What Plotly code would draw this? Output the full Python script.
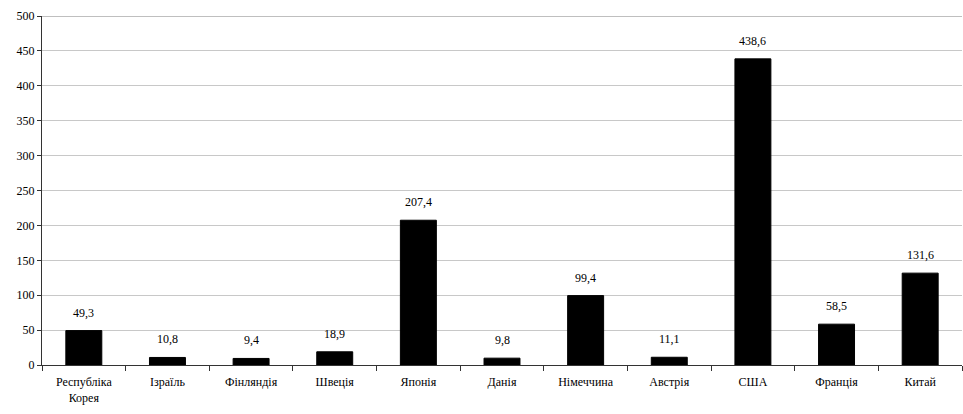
import plotly.graph_objects as go

countries = ["Республіка<br>Корея", "Ізраїль", "Фінляндія", "Швеція", "Японія", "Данія",
             "Німеччина", "Австрія", "США", "Франція", "Китай"]
values = [49.3, 10.8, 9.4, 18.9, 207.4, 9.8, 99.4, 11.1, 438.6, 58.5, 131.6]
y_ticks = [0, 50, 100, 150, 200, 250, 300, 350, 400, 450, 500]

labels = [f"{v:.1f}".replace(".", ",") for v in values]

font = dict(family="'Liberation Serif', 'DejaVu Serif', serif", size=12, color="#000")

fig = go.Figure(go.Bar(
    x=countries, y=values,
    marker=dict(color="#000", line=dict(color="#000", width=1)),
))

# value labels above each bar
for c, v, t in zip(countries, values, labels):
    fig.add_annotation(x=c, y=v, text=t, showarrow=False, yanchor="bottom",
                       yshift=9, font=font)

fig.update_layout(
    width=963, height=414,
    margin=dict(l=42, r=1, t=16, b=49),
    plot_bgcolor="white", paper_bgcolor="white",
    bargap=0.57, showlegend=False, font=font,
)
fig.update_xaxes(
    type="category", tickson="boundaries", ticks="outside", ticklen=5,
    tickcolor="#333", showline=True, linecolor="#333", linewidth=1,
    showgrid=False, tickfont=font, ticklabelstandoff=6,
)
fig.update_yaxes(
    range=[0, 500], tickvals=y_ticks, ticks="outside", ticklen=4, tickcolor="#333",
    showline=True, linecolor="#333", linewidth=1,
    gridcolor="#c8c8c8", gridwidth=1, tickfont=font, zeroline=False,
)
# darker top border line at 500
fig.add_shape(type="line", xref="paper", yref="y", x0=0, x1=1, y0=500, y1=500,
              line=dict(color="#808080", width=1))

fig.write_html("out.html")
